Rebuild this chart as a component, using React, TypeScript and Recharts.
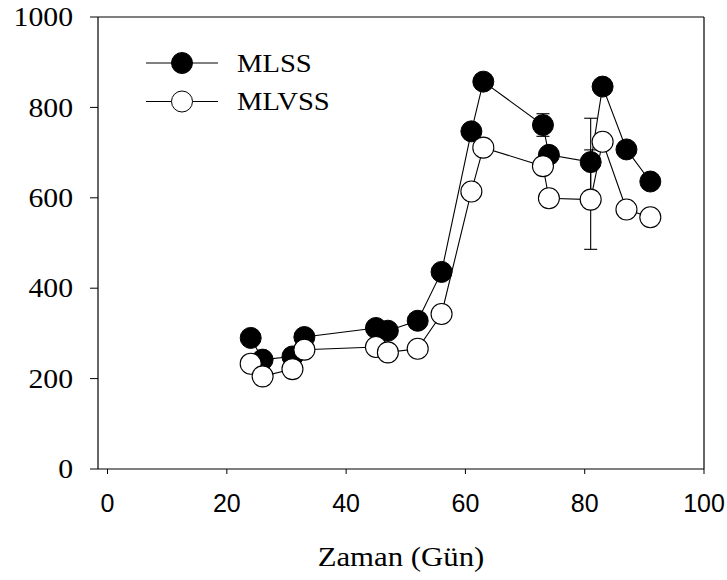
import React from 'react';
import { ErrorBar, Legend, LineChart, Line, ReferenceLine, XAxis, YAxis } from 'recharts';

// MLSS / MLVSS concentrations over the run (days), with SD bars where measured.
const days = [24, 26, 31, 33, 45, 47, 52, 56, 61, 63, 73, 74, 81, 83, 87, 91];
const mlss = [290, 242, 249, 292, 312, 306, 328, 436, 747, 857, 761, 695, 679, 846, 707, 636];
const mlvss = [233, 205, 221, 264, 270, 258, 266, 343, 614, 711, 670, 599, 596, 724, 574, 557];
const mlssErr = [0, 0, 0, 0, 0, 0, 0, 0, 0, 0, 25, 0, 97, 0, 0, 0];
const mlvssErr = [0, 0, 0, 0, 0, 0, 0, 0, 0, 0, 0, 0, 110, 0, 0, 0];

const xTicks = [0, 20, 40, 60, 80, 100];
const yTicks = [0, 200, 400, 600, 800, 1000];

const SERIF = '"Liberation Serif", "Times New Roman", serif';
const SANS = '"Liberation Sans", Arial, sans-serif';
const STRETCH = 1.1;

const data = days.map((day, i) => ({
  day,
  mlss: mlss[i],
  mlvss: mlvss[i],
  mlssErr: mlssErr[i],
  mlvssErr: mlvssErr[i],
}));

// serif labels drawn slightly wide
function WideText({ x, y, size, family, anchor = 'start', dy, children }: any) {
  return (
    <text
      transform={`translate(${x} ${y}) scale(${STRETCH} 1)`}
      textAnchor={anchor}
      fontSize={size}
      fontFamily={family}
      fill="#000"
      dy={dy}
    >
      {children}
    </text>
  );
}

function YTick({ x, y, payload }: any) {
  return (
    <WideText x={x} y={y} size={27} family={SERIF} anchor="end" dy="0.34em">
      {payload.value}
    </WideText>
  );
}

function XTick({ x, y, payload }: any) {
  return (
    <text x={x} y={y} dy="0.72em" textAnchor="middle" fontSize={25} fontFamily={SANS} fill="#000">
      {payload.value}
    </text>
  );
}

function XTitle({ viewBox }: any) {
  const cx = viewBox.x + viewBox.width / 2;
  return (
    <WideText x={cx} y={viewBox.y + 97} size={28} family={SERIF} anchor="middle">
      Zaman (Gün)
    </WideText>
  );
}

function LegendBox({ payload }: any) {
  const rows = payload ?? [];
  return (
    <svg width={260} height={80} style={{ overflow: 'visible' }}>
      {rows.map((p: any, i: number) => {
        const cy = 11 + i * 38.5;
        const filled = p.dataKey === 'mlss';
        return (
          <g key={p.value}>
            <line x1={0} x2={72} y1={cy} y2={cy} stroke="#000" strokeWidth={1} />
            <circle cx={36} cy={cy} r={10.5} fill={filled ? '#000' : '#fff'} stroke="#000" strokeWidth={1} />
            <WideText x={91} y={cy + 8.5} size={26} family={SERIF}>
              {p.value}
            </WideText>
          </g>
        );
      })}
    </svg>
  );
}

export default function App() {
  return (
    <div style={{ position: 'absolute', left: 0, top: 0, width: 727, height: 580, background: '#fff' }}>
      <LineChart width={727} height={580} data={data} margin={{ top: 17, right: 23, bottom: 0, left: 0 }}>
        <XAxis
          dataKey="day"
          type="number"
          domain={[-1.6, 100]}
          ticks={xTicks}
          allowDataOverflow
          tickSize={5}
          tickMargin={20}
          tick={<XTick />}
          height={111}
          stroke="#000"
          axisLine={{ stroke: '#000', strokeWidth: 1.2 }}
          tickLine={{ stroke: '#000' }}
          label={<XTitle />}
        />
        <YAxis
          type="number"
          domain={[0, 1000]}
          ticks={yTicks}
          width={98}
          tickSize={8}
          tickMargin={17}
          tick={<YTick />}
          stroke="#000"
          axisLine={{ stroke: '#000', strokeWidth: 1.2 }}
          tickLine={{ stroke: '#000' }}
        />
        <ReferenceLine y={1000} stroke="#000" strokeWidth={1.2} />
        <ReferenceLine x={100} stroke="#000" strokeWidth={1.2} />
        <Legend
          layout="vertical"
          align="center"
          verticalAlign="middle"
          content={<LegendBox />}
          wrapperStyle={{ position: 'absolute', left: 146, top: 52, width: 260, height: 80 }}
        />
        <Line
          name="MLSS"
          dataKey="mlss"
          type="linear"
          stroke="#000"
          strokeWidth={1.1}
          dot={{ r: 10.5, fill: '#000', stroke: '#000', strokeWidth: 1 }}
          activeDot={false}
          isAnimationActive={false}
        >
          <ErrorBar dataKey="mlssErr" width={6.5} stroke="#000" strokeWidth={1.1} direction="y" />
        </Line>
        <Line
          name="MLVSS"
          dataKey="mlvss"
          type="linear"
          stroke="#000"
          strokeWidth={1.1}
          dot={{ r: 10.5, fill: '#fff', stroke: '#000', strokeWidth: 1.1 }}
          activeDot={false}
          isAnimationActive={false}
        >
          <ErrorBar dataKey="mlvssErr" width={6.5} stroke="#000" strokeWidth={1.1} direction="y" />
        </Line>
      </LineChart>
    </div>
  );
}
